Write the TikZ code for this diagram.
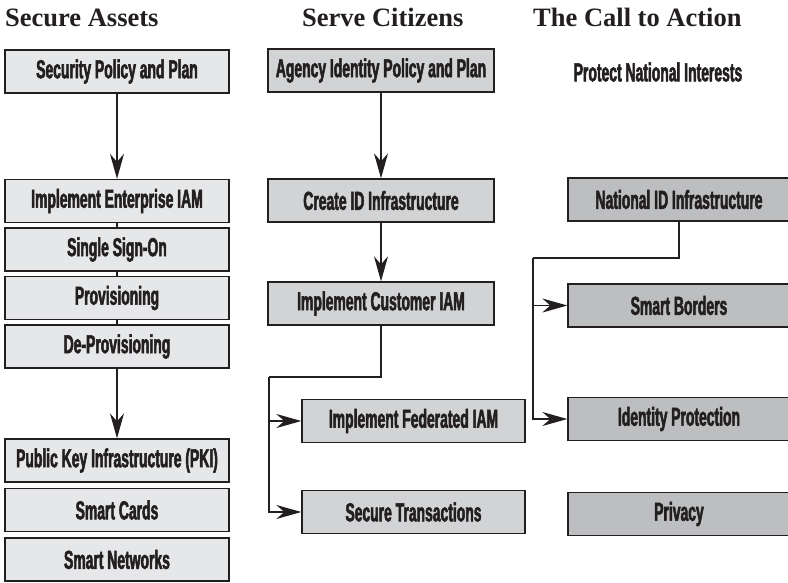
\documentclass[tikz,border=0pt]{standalone}
\usepackage{fontspec}
\usepackage{tikz}
\usetikzlibrary{arrows.meta,positioning,calc}
\newfontfamily\headfont{Liberation Serif}
\newfontfamily\boxfont{Liberation Sans}[FakeStretch=0.535,FakeBold=2]
\definecolor{inkgray}{HTML}{231F20}
\definecolor{assetfill}{HTML}{E6E7E8}
\definecolor{citizenfill}{HTML}{D1D3D4}
\definecolor{nationfill}{HTML}{BCBEC0}
\tikzset{
  head/.style={anchor=base west,inner sep=0pt,text=inkgray,
    font=\headfont\bfseries\fontsize{26.5}{26.5}\selectfont},
  goal/.style={inner sep=0pt,text=inkgray,
    font=\boxfont\bfseries\fontsize{26}{26}\selectfont},
  task/.style={draw=inkgray,line width=1.3pt,inner sep=0pt,text=inkgray,
    minimum height=43pt,font=\boxfont\bfseries\fontsize{26}{26}\selectfont},
  asset/.style={task,fill=assetfill,minimum width=224pt},
  citizen/.style={task,fill=citizenfill,minimum width=226pt},
  federal/.style={task,fill=citizenfill,minimum width=223pt},
  nation/.style={task,fill=nationfill,minimum width=222pt},
  link/.style={draw=inkgray,line width=1.3pt},
  flow/.style={link,-{Stealth[length=25pt,width=14pt,inset=8pt]}}
}
\begin{document}
\begin{tikzpicture}[x=1pt,y=-1pt]
  \useasboundingbox (0,0) rectangle (788,582);
  % column heads
  \node[head] (h1) at (5,26) {Secure Assets};
  \node[head] (h2) at (302,26) {Serve Citizens};
  \node[head] (h3) at (533,26) {The Call to Action};
  \node[goal] (pni) at (658,72) {Protect National Interests};

  % secure assets
  \node[asset] (spp)  at (117,71.5) {Security Policy and Plan};
  \node[asset] (ent)  at (117,201) {Implement Enterprise IAM};
  \node[asset] (sso)  at (117,249.5) {Single Sign-On};
  \node[asset] (prov) at (117,298) {Provisioning};
  \node[asset] (dprv) at (117,346.5) {De-Provisioning};
  \node[asset] (pki)  at (117,460.5) {Public Key Infrastructure (PKI)};
  \node[asset] (card) at (117,510) {Smart Cards};
  \node[asset] (net)  at (117,559.5) {Smart Networks};

  % serve citizens
  \node[citizen] (aip)  at (381,70.5) {Agency Identity Policy and Plan};
  \node[citizen] (cid)  at (381,200.5) {Create ID Infrastructure};
  \node[citizen] (cust) at (381,303.5) {Implement Customer IAM};
  \node[federal] (fed)  at (413.5,421) {Implement Federated IAM};
  \node[federal] (sec)  at (413.5,512) {Secure Transactions};

  % call to action
  \node[nation] (nid)  at (679,199.5) {National ID Infrastructure};
  \node[nation] (bord) at (679,305.5) {Smart Borders};
  \node[nation] (idp)  at (679,419) {Identity Protection};
  \node[nation] (priv) at (679,514) {Privacy};

  \coordinate (cj) at (269,377);
  \coordinate (nj) at (533,258);

  \draw[flow] (spp) -- (ent);
  \foreach \a/\b in {ent/sso,sso/prov,prov/dprv}
    \draw[link] (\a) -- (\b);
  \draw[flow] (dprv) -- (pki);

  \draw[flow] (aip) -- (cid);
  \draw[flow] (cid) -- (cust);
  \draw[link] (cust.south) |- (cj);
  \draw[flow] (cj) |- (fed.west);
  \draw[flow] (cj) |- (sec.west);

  \draw[link] (nid.south) |- (nj);
  \draw[flow] (nj) |- (bord.west);
  \draw[flow] (nj) |- (idp.west);
\end{tikzpicture}
\end{document}
